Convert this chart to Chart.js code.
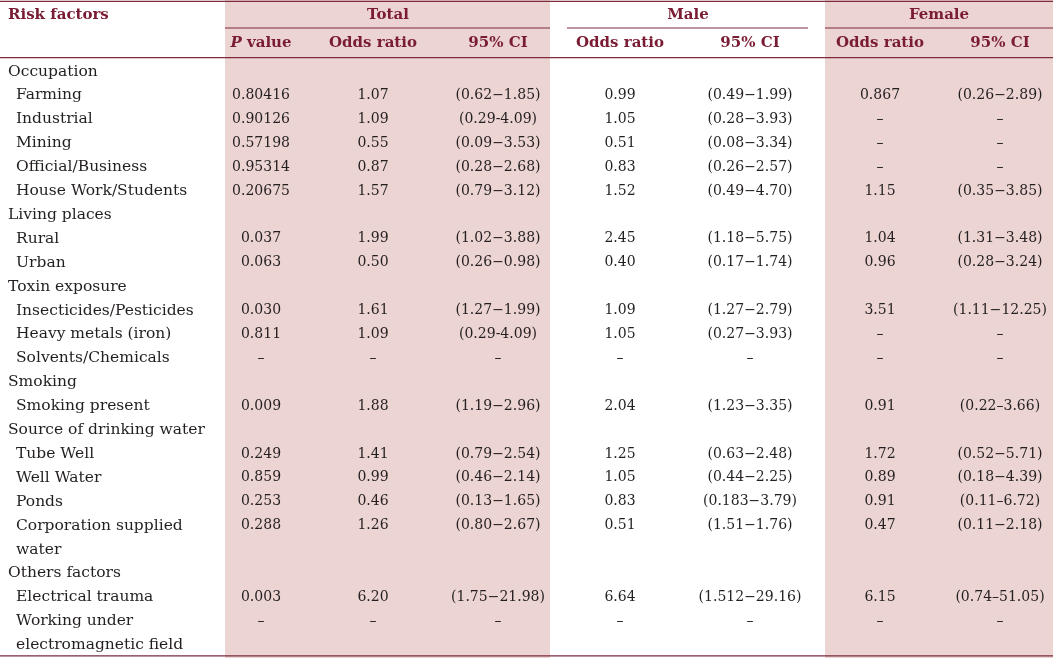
<!DOCTYPE html>
<html>
<head>
<meta charset="utf-8">
<script src="https://cdn.jsdelivr.net/npm/chart.js@4.4.1/dist/chart.umd.min.js"></script>
<style>
  html, body { margin: 0; padding: 0; background: #fff; }
  #wrap { width: 1053px; height: 658px; }
</style>
</head>
<body>
<div id="wrap"><canvas id="riskTable"></canvas></div>
<script>
// table contents
const rowLabels = ['Occupation', 'Farming', 'Industrial', 'Mining', 'Official/Business', 'House Work/Students',
    'Living places', 'Rural', 'Urban',
    'Toxin exposure', 'Insecticides/Pesticides', 'Heavy metals (iron)', 'Solvents/Chemicals',
    'Smoking', 'Smoking present',
    'Source of drinking water', 'Tube Well', 'Well Water', 'Ponds', ['Corporation supplied', 'water'],
    'Others factors', 'Electrical trauma', ['Working under', 'electromagnetic field']];
const groupRows = ['Occupation', 'Living places', 'Toxin exposure', 'Smoking', 'Source of drinking water', 'Others factors'];

const headerTop = ['Risk factors', 'Total', 'Male', 'Female'];
const headerSub = ['P value', 'Odds ratio', '95% CI', 'Odds ratio', '95% CI', 'Odds ratio', '95% CI'];

const pValue = [null, '0.80416', '0.90126', '0.57198', '0.95314', '0.20675', null, '0.037', '0.063',
    null, '0.030', '0.811', '–', null, '0.009', null, '0.249', '0.859', '0.253', '0.288', null, '0.003', '–'];
const totalOR = [null, '1.07', '1.09', '0.55', '0.87', '1.57', null, '1.99', '0.50',
    null, '1.61', '1.09', '–', null, '1.88', null, '1.41', '0.99', '0.46', '1.26', null, '6.20', '–'];
const totalCI = [null, '(0.62−1.85)', '(0.29-4.09)', '(0.09−3.53)', '(0.28−2.68)', '(0.79−3.12)', null, '(1.02−3.88)', '(0.26−0.98)',
    null, '(1.27−1.99)', '(0.29-4.09)', '–', null, '(1.19−2.96)', null, '(0.79−2.54)', '(0.46−2.14)', '(0.13−1.65)', '(0.80−2.67)', null, '(1.75−21.98)', '–'];
const maleOR = [null, '0.99', '1.05', '0.51', '0.83', '1.52', null, '2.45', '0.40',
    null, '1.09', '1.05', '–', null, '2.04', null, '1.25', '1.05', '0.83', '0.51', null, '6.64', '–'];
const maleCI = [null, '(0.49−1.99)', '(0.28−3.93)', '(0.08−3.34)', '(0.26−2.57)', '(0.49−4.70)', null, '(1.18−5.75)', '(0.17−1.74)',
    null, '(1.27−2.79)', '(0.27−3.93)', '–', null, '(1.23−3.35)', null, '(0.63−2.48)', '(0.44−2.25)', '(0.183−3.79)', '(1.51−1.76)', null, '(1.512−29.16)', '–'];
const femaleOR = [null, '0.867', '–', '–', '–', '1.15', null, '1.04', '0.96',
    null, '3.51', '–', '–', null, '0.91', null, '1.72', '0.89', '0.91', '0.47', null, '6.15', '–'];
const femaleCI = [null, '(0.26−2.89)', '–', '–', '–', '(0.35−3.85)', null, '(1.31−3.48)', '(0.28−3.24)',
    null, '(1.11−12.25)', '–', '–', null, '(0.22–3.66)', null, '(0.52−5.71)', '(0.18−4.39)', '(0.11–6.72)', '(0.11−2.18)', null, '(0.74–51.05)', '–'];

// layout (x in page pixels, y in row slots)
const colX = { group: 8, item: 16, p: 261, tOR: 373, tCI: 498, mOR: 620, mCI: 750, fOR: 880, fCI: 1000 };
const groupX = [8, 388, 688, 939];
const rowPitch = 23.9;
const firstRowY = 71.5;
const headerTopSlot = -2.36;
const headerSubSlot = -1.19;
const shadeSpans = [[225, 550], [825, 1053]];
const groupLineSpans = [[225, 550], [567, 808], [825, 1053]];
const fullLineSlots = [-2.93, -0.58, 24.45];
const groupLineSlot = -1.82;

const FONT = '"DejaVu Serif", serif';
const LABEL_SIZE = 15.5;
const CELL_SIZE = 14;
const HEAD_SIZE = 15;
const INK = '#231f20';
const HEAD_INK = '#7a1c33';
const RULE = '#7d2a3c';
const SHADE = '#ebd4d1';

// slot index of each row (two line labels use two slots)
let nextSlot = 0;
const rowSlot = rowLabels.map(l => {
    const s = nextSlot;
    nextSlot += Array.isArray(l) ? l.length : 1;
    return s;
});

function cellPoints(values, x) {
    const pts = [];
    values.forEach((v, i) => {
        if (v !== null) pts.push({ x: x, y: rowSlot[i], text: v });
    });
    return pts;
}

const labelPoints = [];
rowLabels.forEach((l, i) => {
    const lines = Array.isArray(l) ? l : [l];
    const isGroup = groupRows.includes(lines[0]);
    lines.forEach((t, k) => labelPoints.push({ x: isGroup ? colX.group : colX.item, y: rowSlot[i] + k, text: t }));
});

const subX = [colX.p, colX.tOR, colX.tCI, colX.mOR, colX.mCI, colX.fOR, colX.fCI];

const datasets = [
    { label: 'labels', data: labelPoints, align: 'left', size: LABEL_SIZE },
    { label: 'headTop', data: headerTop.map((t, i) => ({ x: groupX[i], y: headerTopSlot, text: t })), header: true },
    { label: 'headSub', data: headerSub.map((t, i) => ({ x: subX[i], y: headerSubSlot, text: t })), header: true, align: 'center' },
    { label: 'pValue', data: cellPoints(pValue, colX.p) },
    { label: 'totalOR', data: cellPoints(totalOR, colX.tOR) },
    { label: 'totalCI', data: cellPoints(totalCI, colX.tCI) },
    { label: 'maleOR', data: cellPoints(maleOR, colX.mOR) },
    { label: 'maleCI', data: cellPoints(maleCI, colX.mCI) },
    { label: 'femaleOR', data: cellPoints(femaleOR, colX.fOR) },
    { label: 'femaleCI', data: cellPoints(femaleCI, colX.fCI) }
].map(ds => Object.assign({ pointRadius: 0, pointHoverRadius: 0, showLine: false }, ds));

// shading and rules under the text
const tableBackground = {
    id: 'tableBackground',
    beforeDatasetsDraw(chart) {
        const ctx = chart.ctx;
        const xs = chart.scales.x, ys = chart.scales.y;
        ctx.save();
        ctx.fillStyle = SHADE;
        shadeSpans.forEach(([a, b]) => {
            const x0 = xs.getPixelForValue(a), x1 = xs.getPixelForValue(b);
            ctx.fillRect(x0, chart.chartArea.top, x1 - x0, chart.chartArea.bottom - chart.chartArea.top);
        });
        ctx.strokeStyle = RULE;
        ctx.lineWidth = 1.3;
        fullLineSlots.forEach(s => {
            const y = ys.getPixelForValue(s);
            ctx.beginPath();
            ctx.moveTo(xs.left, y);
            ctx.lineTo(xs.right, y);
            ctx.stroke();
        });
        ctx.lineWidth = 1;
        groupLineSpans.forEach(([a, b]) => {
            const y = ys.getPixelForValue(groupLineSlot);
            ctx.beginPath();
            ctx.moveTo(xs.getPixelForValue(a), y);
            ctx.lineTo(xs.getPixelForValue(b), y);
            ctx.stroke();
        });
        ctx.restore();
    }
};

// draws each cell's text at the point the scales placed it
const cellText = {
    id: 'cellText',
    afterDatasetsDraw(chart) {
        const ctx = chart.ctx;
        ctx.save();
        ctx.textBaseline = 'middle';
        chart.data.datasets.forEach((ds, d) => {
            const meta = chart.getDatasetMeta(d);
            meta.data.forEach((el, i) => {
                const text = ds.data[i].text;
                let align = ds.align || 'center';
                if (ds.label === 'headTop' && i === 0) align = 'left';
                ctx.fillStyle = ds.header ? HEAD_INK : INK;
                const weight = ds.header ? 'bold ' : '';
                const size = ds.header ? HEAD_SIZE : (ds.size || CELL_SIZE);
                if (ds.header && text.startsWith('P ')) {
                    // italic P in "P value"
                    const fItal = 'italic bold ' + size + 'px ' + FONT;
                    const fBold = 'bold ' + size + 'px ' + FONT;
                    ctx.font = fItal;
                    const wP = ctx.measureText('P').width;
                    ctx.font = fBold;
                    const rest = text.slice(1);
                    const wR = ctx.measureText(rest).width;
                    const x0 = el.x - (wP + wR) / 2;
                    ctx.textAlign = 'left';
                    ctx.font = fItal;
                    ctx.fillText('P', x0, el.y);
                    ctx.font = fBold;
                    ctx.fillText(rest, x0 + wP, el.y);
                    return;
                }
                ctx.font = weight + size + 'px ' + FONT;
                ctx.textAlign = align;
                ctx.fillText(text, el.x, el.y);
            });
        });
        ctx.restore();
    }
};

const yMin = -firstRowY / rowPitch;
const yMax = yMin + 658 / rowPitch;

new Chart(document.getElementById('riskTable').getContext('2d'), {
    type: 'scatter',
    data: { datasets: datasets },
    options: {
        responsive: true,
        maintainAspectRatio: false,
        animation: false,
        events: [],
        layout: { padding: 0 },
        plugins: {
            legend: { display: false },
            tooltip: { enabled: false }
        },
        scales: {
            x: { type: 'linear', min: 0, max: 1053, display: false },
            y: { type: 'linear', min: yMin, max: yMax, reverse: true, display: false }
        }
    },
    plugins: [tableBackground, cellText]
});
</script>
</body>
</html>
